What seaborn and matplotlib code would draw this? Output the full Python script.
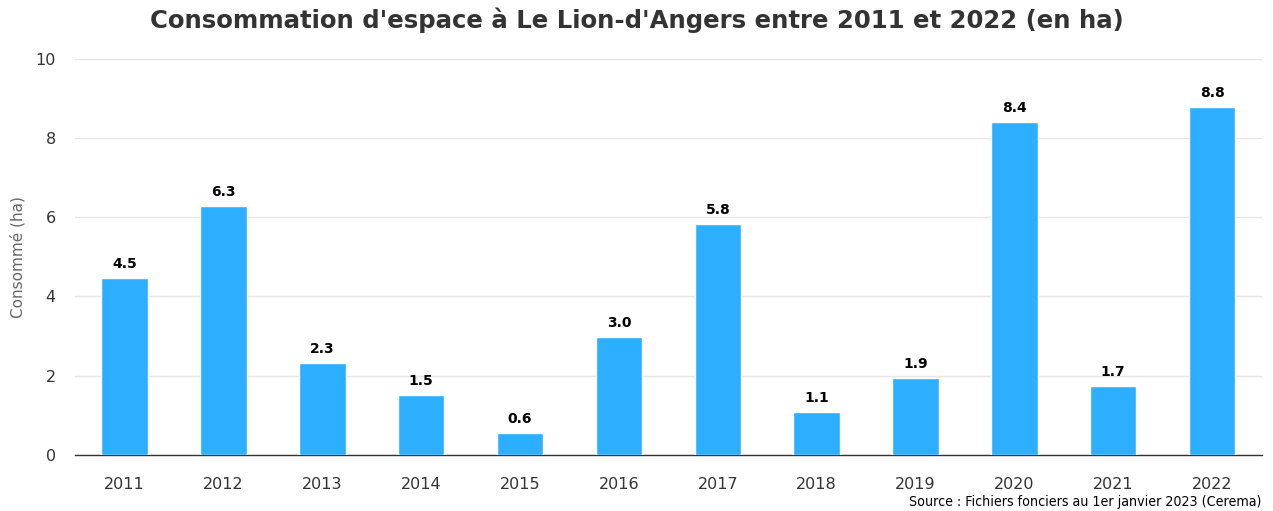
import matplotlib
matplotlib.use("Agg")
import matplotlib.pyplot as plt
import seaborn as sns
import pandas as pd

years = ["2011", "2012", "2013", "2014", "2015", "2016",
         "2017", "2018", "2019", "2020", "2021", "2022"]
conso = [4.47, 6.29, 2.32, 1.52, 0.56, 2.98, 5.83, 1.09, 1.94, 8.41, 1.74, 8.79]

df = pd.DataFrame({"annee": years, "conso": conso})

sns.set_theme(style="white")
plt.rcParams["font.family"] = ["DejaVu Sans"]

fig, ax = plt.subplots(figsize=(12.73, 5.11), dpi=100)
fig.subplots_adjust(left=0.059, right=0.991, bottom=0.11, top=0.885)

sns.barplot(data=df, x="annee", y="conso", color="#2caffe", width=0.47,
            saturation=1, ax=ax, zorder=3)

for p, v in zip(ax.patches, conso):
    ax.annotate(f"{v:.1f}", (p.get_x() + p.get_width() / 2, p.get_height()),
                xytext=(0, 5), textcoords="offset points", ha="center", va="bottom",
                fontsize=10, fontweight="bold", color="#000000")

ax.set_ylim(0, 10)
ax.set_yticks([0, 2, 4, 6, 8, 10])
ax.set_xlim(-0.5, 11.5)
ax.yaxis.grid(True, color="#e6e6e6", linewidth=1, zorder=0)
ax.set_axisbelow(True)
for s in ["top", "right", "left"]:
    ax.spines[s].set_visible(False)
ax.spines["bottom"].set_color("#333333")
ax.spines["bottom"].set_linewidth(1)
ax.tick_params(axis="both", length=0, labelsize=11.5, labelcolor="#333333")
ax.tick_params(axis="x", pad=16)
ax.tick_params(axis="y", pad=14)
ax.set_xlabel("")
ax.set_ylabel("Consommé (ha)", fontsize=11, color="#666666", labelpad=7)

fig.suptitle("Consommation d'espace à Le Lion-d'Angers entre 2011 et 2022 (en ha)",
             fontsize=17.6, fontweight="bold", color="#333333", y=0.985)
fig.text(0.991, 0.004, "Source : Fichiers fonciers au 1er janvier 2023 (Cerema)",
         ha="right", va="bottom", fontsize=10.2, color="#000000", fontstretch="condensed")

fig.savefig("out.png", dpi=100)
